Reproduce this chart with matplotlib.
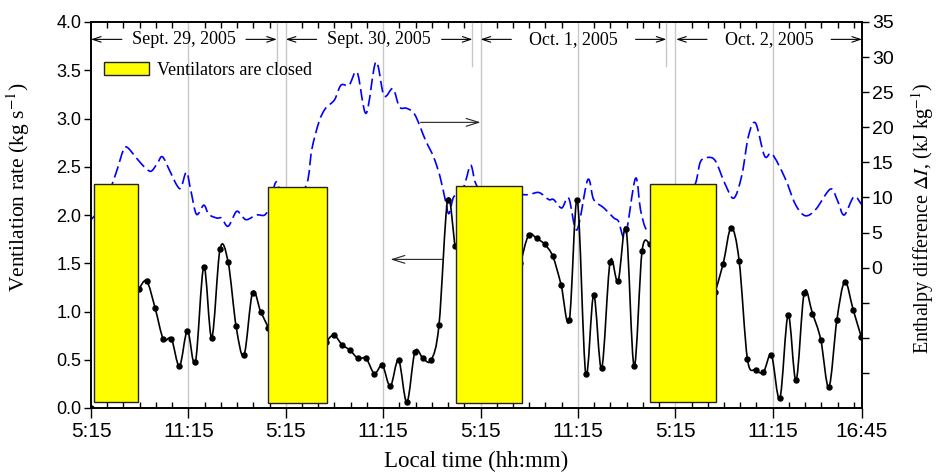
import numpy as np
import matplotlib
matplotlib.use("Agg")
import matplotlib.pyplot as plt
from matplotlib.path import Path
from matplotlib.patches import PathPatch
from matplotlib.ticker import MultipleLocator, FixedLocator, FuncFormatter

plt.rcParams['font.family'] = ['Liberation Sans', 'DejaVu Sans']
plt.rcParams['mathtext.fontset'] = 'stix'

# hours since 5:15, Sept. 29
rate_x = [0.0, 2.94, 3.43, 3.95, 4.46, 4.95, 5.45, 5.94, 6.43, 6.95, 7.44, 7.95, 8.45, 8.94, 9.43,
          9.95, 10.45, 10.93,
          14.46, 14.95, 15.46, 15.96, 16.46, 16.95, 17.46, 17.95, 18.44, 18.95, 19.46, 19.96, 20.46,
          20.96, 21.44, 21.97, 22.42,
          26.46, 26.96, 27.45, 27.95, 28.45, 28.96, 29.47, 29.96, 30.48, 30.97, 31.46, 31.98, 32.47,
          32.97, 33.46, 33.95, 34.42,
          38.45, 38.95, 39.44, 39.93, 40.44, 40.94, 41.43, 41.92, 42.44, 42.95, 43.44, 43.94, 44.45,
          44.96, 45.46, 45.95, 46.44, 46.96, 47.45]
rate = [0.0, 1.23, 1.316, 1.036, 0.712, 0.718, 0.435, 0.80, 0.473, 1.464, 0.729, 1.648, 1.51, 0.846, 0.549,
        1.195, 1.0, 0.834,
        0.68, 0.756, 0.658, 0.598, 0.513, 0.513, 0.357, 0.442, 0.226, 0.497, 0.06, 0.584, 0.513,
        0.497, 0.863, 2.155, 1.679,
        1.50, 1.793, 1.758, 1.696, 1.572, 1.278, 0.912, 2.155, 0.356, 1.171, 0.411, 1.513, 1.313,
        1.855, 0.432, 1.627, 1.70,
        1.20, 1.497, 1.868, 1.527, 0.508, 0.394, 0.373, 0.546, 0.10, 0.964, 0.287, 1.195, 0.977,
        0.708, 0.215, 0.909, 1.309, 1.016, 0.739]

dI_x = [0.0, 0.8, 1.5, 2.0, 2.25, 2.7, 3.1, 3.5, 3.75, 4.1, 4.4, 4.85, 5.3, 5.55, 5.88, 6.15, 6.5,
        6.95, 7.25, 7.75, 8.05, 8.45, 8.96, 9.3, 9.6, 10.2, 10.7, 11.0, 11.4, 11.8, 12.5, 13.3,
        13.6, 14.05, 14.45, 15.0, 15.4, 15.9, 16.4, 16.95, 17.55, 18.05, 18.6, 19.0, 19.45, 19.95,
        20.6, 21.1, 21.5, 21.83, 22.05, 22.35, 22.8, 23.1, 23.4, 23.7, 24.2, 25.0, 25.8, 26.6,
        27.0, 27.6, 28.2, 28.5, 29.0, 29.43, 29.94, 30.6, 30.97, 31.6, 32.2, 32.5, 32.92, 33.54,
        33.85, 34.15, 34.46, 35.2, 36.0, 36.7, 37.24, 37.55, 38.0, 38.47, 39.05, 39.6, 40.1, 40.5,
        40.94, 41.5, 41.96, 42.75, 43.4, 44.0, 44.65, 45.56, 46.0, 46.4, 47.0, 47.47]
dI = [6.85, 9.0, 13.2, 16.8, 17.1, 15.9, 14.8, 13.9, 13.8, 14.9, 15.8, 13.8, 11.7, 11.4, 13.6, 11.0, 7.6,
      8.9, 7.6, 7.07, 7.05, 5.9, 8.0, 7.3, 6.83, 7.5, 7.5, 8.8, 12.2, 10.0, 9.5, 12.0,
      16.8, 20.8, 22.7, 23.9, 26.0, 26.0, 27.8, 22.0, 29.3, 24.5, 25.5, 22.9, 22.7, 21.8,
      18.2, 15.8, 13.0, 9.6, 7.7, 10.1, 10.5, 12.5, 14.6, 12.0, 10.5, 10.2, 10.3, 10.4,
      10.4, 10.7, 9.7, 9.7, 8.5, 9.9, 5.4, 12.5, 9.7, 8.5, 7.1, 6.6, 4.5, 12.7,
      8.3, 5.7, 5.2, 6.0, 8.0, 10.0, 12.0, 15.1, 15.7, 15.2, 12.0, 9.9, 13.2, 18.7,
      20.6, 15.9, 16.2, 12.8, 9.0, 7.4, 8.3, 11.2, 9.5, 7.5, 10.1, 9.0]

closed_start = [0.18, 10.9, 22.5, 34.46]
closed_end = [2.9, 14.53, 26.57, 38.5]
closed_bottom = [0.065, 0.05, 0.055, 0.06]
closed_top = [2.32, 2.29, 2.30, 2.32]

day_labels = ["Sept. 29, 2005", "Sept. 30, 2005", "Oct. 1, 2005", "Oct. 2, 2005"]
day_start = [0.0, 12.0, 24.0, 36.05]
day_end = [11.45, 23.5, 35.45, 47.5]

tick_pos = [0, 6, 12, 18, 24, 30, 36, 42, 47.5]
tick_labels = ["5:15", "11:15", "5:15", "11:15", "5:15", "11:15", "5:15", "11:15", "16:45"]


def smooth_path(x, y):
    # Catmull-Rom curve through the points, drawn as cubic Bezier segments
    pts = np.column_stack([x, y]).astype(float)
    ext = np.vstack([pts[0], pts, pts[-1]])
    verts = [pts[0]]
    codes = [Path.MOVETO]
    for i in range(len(pts) - 1):
        p0, p1, p2, p3 = ext[i], ext[i + 1], ext[i + 2], ext[i + 3]
        verts += [p1 + (p2 - p0) / 6, p2 - (p3 - p1) / 6, p2]
        codes += [Path.CURVE4] * 3
    return Path(verts, codes)


serif = 'Liberation Serif'

fig = plt.figure(figsize=(9.39, 4.72), dpi=100)
ax = fig.add_axes([91 / 939, 1 - 408 / 472, 771 / 939, 386 / 472])
ax2 = ax.twinx()
ax.set_zorder(ax2.get_zorder() + 1)
ax.patch.set_visible(False)

# enthalpy difference (right axis)
ax2.add_patch(PathPatch(smooth_path(dI_x, dI), fill=False, edgecolor='#0000ff', lw=1.2,
                        linestyle=(0, (7, 2.8)), zorder=3))
for xv in tick_pos[1:-1]:
    ax2.axvline(xv, color='#c8c8c8', lw=1.0, zorder=1)
ax2.set_ylim(-20, 35)
ax2.yaxis.set_major_locator(FixedLocator(list(range(-15, 40, 5))))
ax2.yaxis.set_major_formatter(FuncFormatter(lambda v, p: "" if v < 0 else "%d" % v))
ax2.tick_params(axis='y', direction='out', length=5, width=1, labelsize=14, pad=2)
ax2.set_ylabel(r"Enthalpy difference $\mathit{\Delta I}$, (kJ kg$^{-1}$)", family=serif,
               fontsize=14.5)
ax2.yaxis.set_label_coords(1.061, 0.49)

# ventilation rate (left axis), split where the ventilators are closed
rx = np.array(rate_x)
ry = np.array(rate)
breaks = np.where(np.diff(rx) > 1.5)[0] + 1
for sx, sy in zip(np.split(rx, breaks), np.split(ry, breaks)):
    if len(sx) > 1:
        ax.add_patch(PathPatch(smooth_path(sx, sy), fill=False, edgecolor='black', lw=1.2, zorder=2))
ax.plot(rx, ry, 'o', color='black', ms=3.6, zorder=3)

bars = ax.bar(closed_start, np.array(closed_top) - np.array(closed_bottom),
              width=np.array(closed_end) - np.array(closed_start), bottom=closed_bottom,
              align='edge', color='#ffff00', edgecolor='#222222', lw=1.0, zorder=4,
              label="Ventilators are closed")

ax.set_xlim(0, 47.5)
ax.set_ylim(0, 4)
ax.set_xticks(tick_pos)
ax.set_xticklabels(tick_labels)
ax.xaxis.set_minor_locator(MultipleLocator(1))
ax.yaxis.set_major_locator(MultipleLocator(0.5))
ax.yaxis.set_major_formatter(FuncFormatter(lambda v, p: "%.1f" % v))
ax.tick_params(axis='x', which='major', direction='out', length=7, width=1, labelsize=15, pad=3)
ax.tick_params(axis='x', which='minor', direction='in', length=4, width=1, top=True)
ax.tick_params(axis='y', direction='out', length=5, width=1, labelsize=13, pad=2)
for a in (ax, ax2):
    for s in a.spines.values():
        s.set_linewidth(1.2)

ax.set_xlabel("Local time (hh:mm)", family=serif, fontsize=16.5)
ax.xaxis.set_label_coords(0.4994, -0.112)
ax.set_ylabel(r"Ventilation rate (kg s$^{-1}$)", family=serif, fontsize=15.5)
ax.yaxis.set_label_coords(-0.077, 0.573)

# day spans along the top
arrow_small = dict(arrowstyle='->,head_length=0.6,head_width=0.2', lw=0.8, color='black',
                   shrinkA=0, shrinkB=0)
for lab, s, e in zip(day_labels, day_start, day_end):
    ax.text((s + e) / 2, 3.82, lab, family=serif, fontsize=13, ha='center', va='center')
    ax.annotate("", xy=(s, 3.82), xytext=(s + 1.9, 3.82), arrowprops=arrow_small)
    ax.annotate("", xy=(e, 3.82), xytext=(e - 1.9, 3.82), arrowprops=arrow_small)
for e in day_end[:-1]:
    ax.plot([e, e], [3.54, 4.0], color='#c8c8c8', lw=1.0, zorder=1)

# which curve belongs to which axis
arrow_big = dict(arrowstyle='->,head_length=0.9,head_width=0.28', lw=0.8, color='#222222',
                 shrinkA=0, shrinkB=0)
ax.annotate("", xy=(24.0, 2.96), xytext=(20.3, 2.96), arrowprops=arrow_big)
ax.annotate("", xy=(18.45, 1.54), xytext=(21.7, 1.54), arrowprops=arrow_big)

ax.legend(handles=[bars], loc='upper left', bbox_to_anchor=(0.0, 0.93), frameon=False,
          prop={'family': serif, 'size': 13}, handlelength=2.5, handleheight=0.78,
          handletextpad=0.45, borderaxespad=0.3)

fig.savefig("out.png", dpi=100)
